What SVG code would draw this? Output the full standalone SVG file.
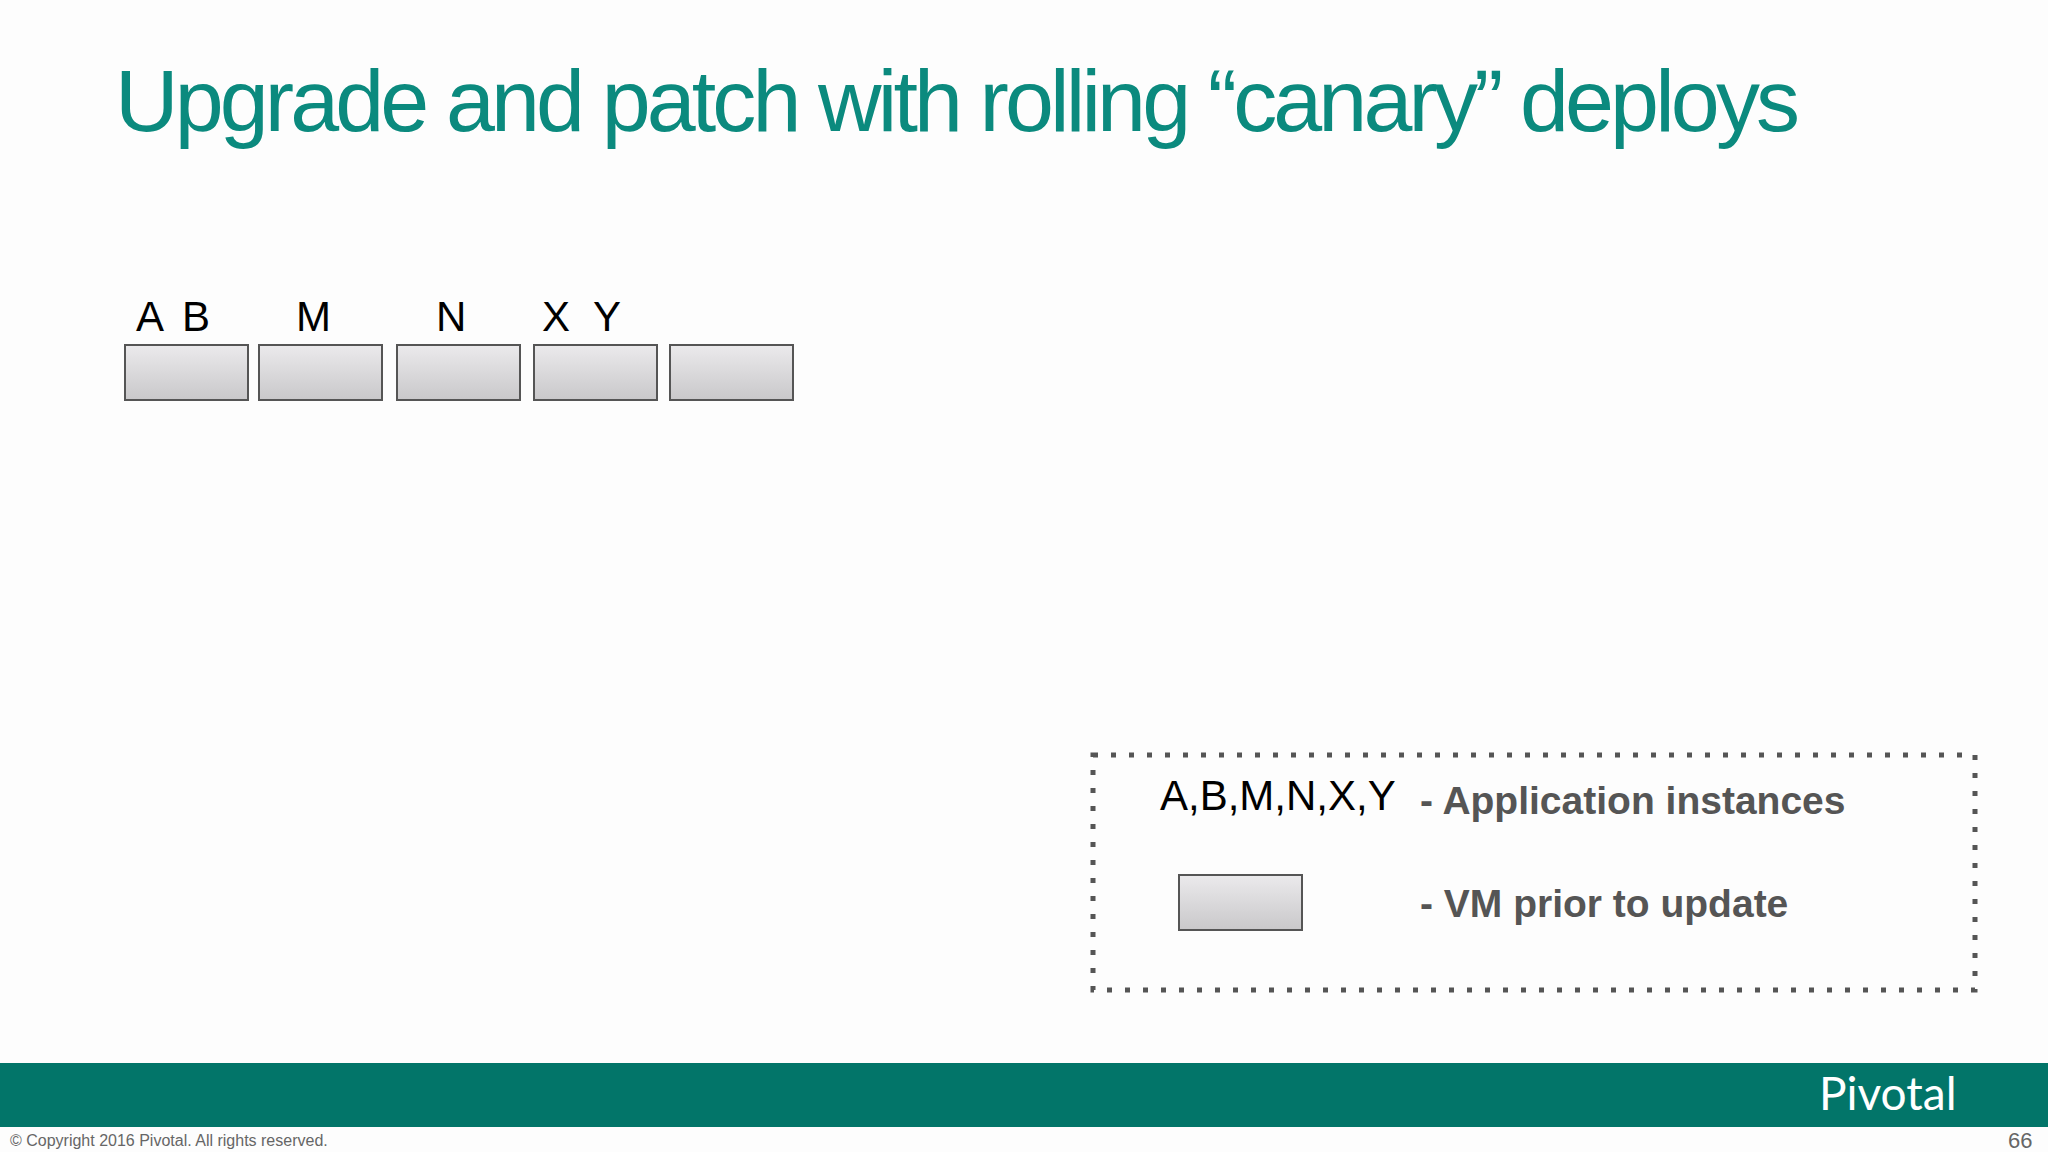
<svg xmlns="http://www.w3.org/2000/svg" width="2048" height="1152" viewBox="0 0 2048 1152">
<defs>
<linearGradient id="vmg" x1="0" y1="0" x2="0" y2="1"><stop offset="0" stop-color="#ebeaec"/><stop offset="1" stop-color="#c9c8ca"/></linearGradient>
<style>
.vm{fill:url(#vmg);stroke:#555;stroke-width:2}
.lbl{font-family:"Liberation Sans",Arial,sans-serif;font-size:42px;fill:#000}
.leg{font-family:"Liberation Sans",Arial,sans-serif;font-size:39px;font-weight:bold;fill:#555}
</style>
</defs>
<rect width="2048" height="1152" fill="#fdfdfd"/>
<text x="115" y="131" font-family="Liberation Sans,Arial,sans-serif" font-size="88" fill="#0b8a7e" textLength="1685">Upgrade and patch with rolling “canary” deploys</text>
<g id="labels" class="lbl">
<text x="136" y="331">A</text><text x="182" y="331">B</text><text x="296" y="331">M</text><text x="436" y="331">N</text><text x="542" y="331">X</text><text x="593" y="331">Y</text>
</g>
<g id="vm1"><rect class="vm" x="125" y="345" width="123" height="55"/></g>
<g id="vm2"><rect class="vm" x="259" y="345" width="123" height="55"/></g>
<g id="vm3"><rect class="vm" x="397" y="345" width="123" height="55"/></g>
<g id="vm4"><rect class="vm" x="534" y="345" width="123" height="55"/></g>
<g id="vm5"><rect class="vm" x="670" y="345" width="123" height="55"/></g>
<g id="legend">
<rect x="1093" y="755" width="882" height="235" fill="none" stroke="#555" stroke-width="5" stroke-dasharray="5 13"/>
<text class="lbl" x="1160" y="810" font-size="40">A,B,M,N,X,Y</text>
<text class="leg" x="1420" y="814">-  Application instances</text>
<rect class="vm" x="1179" y="875" width="123" height="55"/>
<text class="leg" x="1420" y="917">-  VM prior to update</text>
</g>
<g id="footer">
<rect x="0" y="1063" width="2048" height="64" fill="#027569"/>
<text x="1819" y="1110" font-family="Lato,sans-serif" font-size="46" fill="#fff">Pivotal</text>
<text x="10" y="1146" font-family="Liberation Sans,Arial,sans-serif" font-size="16" fill="#666">© Copyright 2016 Pivotal. All rights reserved.</text>
<text x="2008" y="1148" font-family="Liberation Sans,Arial,sans-serif" font-size="22" fill="#666">66</text>
</g>
</svg>
